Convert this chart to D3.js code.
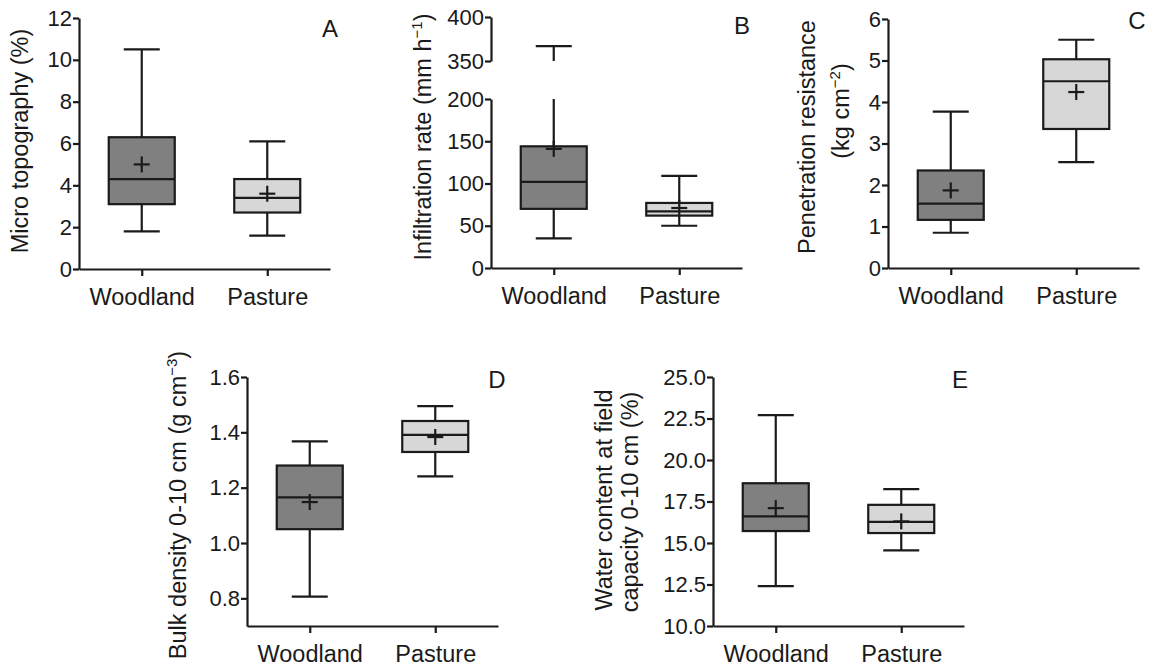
<!DOCTYPE html>
<html>
<head>
<meta charset="utf-8">
<script src="https://cdn.jsdelivr.net/npm/d3@7"></script>
<style>
body { margin: 0; background: #fff; }
text { font-family: "Liberation Sans", Arial, sans-serif; fill: #1a1a1a; }
</style>
</head>
<body>
<div id="chart"></div>
<script>
var groups = ["Woodland", "Pasture"];

// each row: min, q1, median, q3, max, mean
var microTopography = [[1.8, 3.1, 4.3, 6.3, 10.5, 5.0], [1.6, 2.7, 3.4, 4.3, 6.1, 3.6]];
var infiltration = [[35, 70, 102, 144, 367, 141], [50, 62, 67, 77, 109, 71]];
var penetration = [[0.85, 1.16, 1.55, 2.35, 3.77, 1.87], [2.55, 3.35, 4.5, 5.03, 5.5, 4.24]];
var bulkDensity = [[0.806, 1.05, 1.165, 1.28, 1.367, 1.148], [1.241, 1.329, 1.391, 1.441, 1.495, 1.383]];
var waterContent = [[12.4, 15.72, 16.6, 18.6, 22.7, 17.1], [14.55, 15.6, 16.27, 17.3, 18.25, 16.3]];

var ticksA = [0, 2, 4, 6, 8, 10, 12];
var ticksBLow = [0, 50, 100, 150, 200];
var ticksBHigh = [350, 400];
var ticksC = [0, 1, 2, 3, 4, 5, 6];
var ticksD = [0.8, 1.0, 1.2, 1.4, 1.6];
var ticksE = [10, 12.5, 15, 17.5, 20, 22.5, 25];

var fills = ["#808080", "#d7d7d7"];
var ink = "#1a1a1a";

var plotW = 251, boxW = 66, capW = 36;

var svg = d3.select("#chart").append("svg")
    .attr("width", 1149)
    .attr("height", 671);

function styleAxis(sel) {
    sel.selectAll("path, line").attr("stroke", ink).attr("stroke-width", 2.2);
    sel.selectAll("text").attr("fill", ink).style("font-size", "22px");
}

function vline(g, x, y1, y2) {
    g.append("line").attr("x1", x).attr("x2", x).attr("y1", y1).attr("y2", y2)
        .attr("stroke", ink).attr("stroke-width", 2.2);
}
function hline(g, x1, x2, y) {
    g.append("line").attr("x1", x1).attr("x2", x2).attr("y1", y).attr("y2", y)
        .attr("stroke", ink).attr("stroke-width", 2.2);
}

function addLabel(parts, x, y) {
    var t = svg.append("text")
        .attr("transform", "translate(" + x + "," + y + ") rotate(-90)")
        .attr("text-anchor", "middle")
        .style("font-size", "23.5px");
    parts.forEach(function(p) {
        var s = t.append("tspan").text(p.t);
        if (p.sup) s.attr("dy", -9).style("font-size", "15px");
        if (p.back) s.attr("dy", 9);
    });
}

function panel(cfg) {
    var g = svg.append("g").attr("transform", "translate(" + cfg.x0 + ",0)");

    var x = d3.scalePoint().domain(groups).range([0, plotW]).padding(0.5);

    var segs = cfg.segments.map(function(s) {
        s.scale = d3.scaleLinear().domain(s.domain).range(s.range);
        return s;
    });
    function y(v) {
        for (var i = 0; i < segs.length; i++) {
            var d = segs[i].domain;
            if (v >= d[0] && v <= d[1]) return segs[i].scale(v);
        }
        return segs[0].scale(v);
    }
    // whisker drawn piece by piece so it jumps the axis break
    function whisker(cx, a, b) {
        segs.forEach(function(s) {
            var lo = Math.max(a, s.domain[0]), hi = Math.min(b, s.domain[1]);
            if (lo < hi) vline(g, cx, s.scale(lo), s.scale(hi));
        });
    }

    segs.forEach(function(s) {
        var ax = g.append("g")
            .call(d3.axisLeft(s.scale).tickValues(s.ticks).tickSize(6).tickSizeOuter(0)
                .tickPadding(1).tickFormat(d3.format(cfg.fmt)));
        styleAxis(ax);
    });

    var bottom = cfg.segments[0].range[0];
    var xa = g.append("g")
        .attr("transform", "translate(0," + bottom + ")")
        .call(d3.axisBottom(x).tickSize(7).tickSizeOuter(0).tickPadding(12));
    styleAxis(xa);
    xa.selectAll("text").style("font-size", "23.5px");

    cfg.data.forEach(function(d, i) {
        var cx = x(groups[i]);
        whisker(cx, d[0], d[1]);
        whisker(cx, d[3], d[4]);
        hline(g, cx - capW / 2, cx + capW / 2, y(d[0]));
        hline(g, cx - capW / 2, cx + capW / 2, y(d[4]));
        g.append("rect")
            .attr("x", cx - boxW / 2)
            .attr("y", y(d[3]))
            .attr("width", boxW)
            .attr("height", y(d[1]) - y(d[3]))
            .attr("fill", fills[i])
            .attr("stroke", ink)
            .attr("stroke-width", 2.2);
        hline(g, cx - boxW / 2, cx + boxW / 2, y(d[2]));
        // mean marker
        hline(g, cx - 8, cx + 8, y(d[5]));
        vline(g, cx, y(d[5]) - 8, y(d[5]) + 8);
    });

    svg.append("text")
        .attr("x", cfg.letter[1]).attr("y", cfg.letter[2])
        .attr("text-anchor", "middle")
        .style("font-size", "24px")
        .text(cfg.letter[0]);
}

panel({
    x0: 79, data: microTopography, fmt: "d",
    segments: [{domain: [0, 12], range: [269, 18], ticks: ticksA}],
    letter: ["A", 330, 37]
});
panel({
    x0: 491, data: infiltration, fmt: "d",
    segments: [
        {domain: [0, 200], range: [268, 99], ticks: ticksBLow},
        {domain: [350, 400], range: [61, 17], ticks: ticksBHigh}
    ],
    letter: ["B", 742, 34]
});
panel({
    x0: 888, data: penetration, fmt: "d",
    segments: [{domain: [0, 6], range: [268, 19], ticks: ticksC}],
    letter: ["C", 1137, 29]
});
panel({
    x0: 247, data: bulkDensity, fmt: ".1f",
    segments: [{domain: [0.7, 1.6], range: [626, 377], ticks: ticksD}],
    letter: ["D", 497, 388]
});
panel({
    x0: 713, data: waterContent, fmt: ".1f",
    segments: [{domain: [10, 25], range: [626, 377], ticks: ticksE}],
    letter: ["E", 960, 388]
});

addLabel([{t: "Micro topography (%)"}], 28, 141);
addLabel([{t: "Infiltration rate (mm h"}, {t: "\u22121", sup: true}, {t: ")", back: true}], 431, 137);
addLabel([{t: "Penetration resistance"}], 815, 137);
addLabel([{t: "(kg cm"}, {t: "\u22122", sup: true}, {t: ")", back: true}], 849, 111);
addLabel([{t: "Bulk density 0-10 cm (g cm"}, {t: "\u22123", sup: true}, {t: ")", back: true}], 186, 505);
addLabel([{t: "Water content at field"}], 612, 500);
addLabel([{t: "capacity 0-10 cm (%)"}], 638, 502);
</script>
</body>
</html>
